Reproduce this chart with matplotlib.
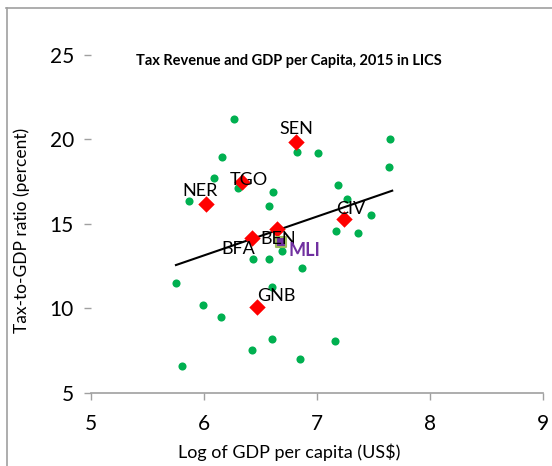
import matplotlib
matplotlib.use('Agg')
import matplotlib.pyplot as plt
from matplotlib.lines import Line2D

plt.rcParams['font.family'] = ['Lato', 'DejaVu Sans']

# other LICs (green dots)
other_x = [6.27, 6.16, 6.09, 5.87, 6.30, 6.615, 6.577, 6.827, 7.007, 7.646, 7.634,
           7.184, 7.27, 7.48, 7.169, 7.36, 6.438, 6.577, 6.692, 6.866, 6.60, 5.996,
           6.15, 5.755, 6.603, 6.427, 7.157, 6.853, 5.808]
other_y = [21.2, 18.98, 17.74, 16.38, 17.13, 16.89, 16.05, 19.28, 19.18, 20.03, 18.37,
           17.31, 16.50, 15.51, 14.59, 14.49, 12.91, 12.91, 13.42, 12.38, 11.25, 10.19,
           9.51, 11.53, 8.20, 7.56, 8.09, 7.03, 6.62]

# WAEMU peers (red diamonds)
peers = ['SEN', 'TGO', 'NER', 'CIV', 'BEN', 'BFA', 'GNB']
peer_x = [6.82, 6.336, 6.017, 7.24, 6.645, 6.43, 6.468]
peer_y = [19.87, 17.50, 16.20, 15.30, 14.69, 14.15, 10.11]

mli_x, mli_y = 6.683, 13.95

# linear trend
trend_x = [5.755, 7.666]
trend_y = [12.57, 16.97]

xticks = [5, 6, 7, 8, 9]
yticks = [5, 10, 15, 20, 25]

fig = plt.figure(figsize=(5.52, 4.66), dpi=100)
ax = fig.add_axes([0.164, 0.1567, 0.820, 0.7253])

ax.scatter(other_x, other_y, s=34, color='#00B050', zorder=3, linewidths=0)
ax.plot(trend_x, trend_y, color='black', lw=1.5, zorder=4)
ax.scatter(peer_x, peer_y, s=70, marker='D', color='#FF0000', zorder=5, linewidths=0)
ax.scatter([mli_x], [mli_y], s=55, marker='s', facecolor='#7030A0',
           edgecolor='#9BBB59', linewidths=1.5, zorder=5)

# label offsets in points
offs = {'SEN': (0, 9), 'TGO': (5, 1), 'NER': (-4, 9), 'CIV': (5, 7),
        'BEN': (1, -7), 'BFA': (-10, -8), 'GNB': (14, 8)}
for name, x, y in zip(peers, peer_x, peer_y):
    dx, dy = offs[name]
    ax.annotate(name, (x, y), xytext=(dx, dy), textcoords='offset points',
                ha='center', va='center', fontsize=13, zorder=6)
ax.annotate('MLI', (mli_x, mli_y), xytext=(17, -6), textcoords='offset points',
            ha='center', va='center', fontsize=13, fontweight='bold',
            color='#7030A0', zorder=6)

ax.set_xlim(5, 9)
ax.set_ylim(5, 25)
ax.set_xticks(xticks)
ax.set_yticks(yticks)
ax.tick_params(axis='both', labelsize=15, color='#A0A0A0', length=5, width=1)
ax.tick_params(axis='x', pad=10)
ax.tick_params(axis='y', pad=7)
for s in ['top', 'right', 'left']:
    ax.spines[s].set_visible(False)
ax.spines['bottom'].set_color('#A0A0A0')
ax.spines['bottom'].set_linewidth(1.2)

fig.text(289 / 552, 1 - 61 / 466, 'Tax Revenue and GDP per Capita, 2015 in LICS',
         ha='center', va='center', fontsize=10.5, fontweight='bold')
fig.text(289 / 552, 1 - 452 / 466, 'Log of GDP per capita (US$)',
         ha='center', va='center', fontsize=13)
fig.text(22 / 552, 1 - 230 / 466, 'Tax-to-GDP ratio (percent)',
         ha='center', va='center', fontsize=12.5, rotation=90)

# chart frame
fig.add_artist(Line2D([6 / 552, 1], [1 - 8 / 466] * 2, color='#A0A0A0', lw=1.2,
                      transform=fig.transFigure))
fig.add_artist(Line2D([6.5 / 552] * 2, [0, 1 - 8 / 466], color='#A0A0A0', lw=1.2,
                      transform=fig.transFigure))

fig.savefig('out.png', dpi=100)
